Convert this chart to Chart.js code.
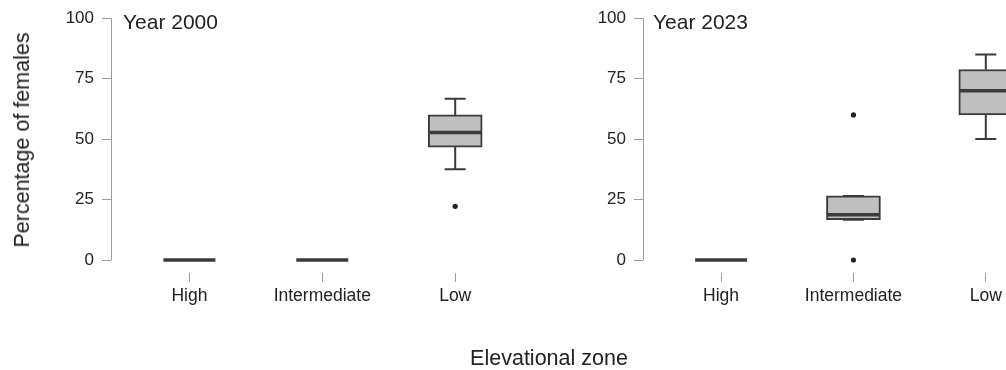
<!DOCTYPE html>
<html>
<head>
<meta charset="utf-8">
<script src="https://cdn.jsdelivr.net/npm/chart.js@4.4.1/dist/chart.umd.min.js"></script>
<style>
  body { margin: 0; background: #fff; }
  #wrap { position: relative; width: 1006px; height: 370px; overflow: hidden; font-family: "Liberation Sans", Arial, sans-serif; color: #222; }
  canvas { position: absolute; top: 0; }
  .panel-title { position: absolute; font-size: 21px; line-height: 21px; white-space: nowrap; }
  #xTitle { position: absolute; left: 449px; width: 200px; top: 348px; text-align: center; font-size: 21.5px; line-height: 21px; white-space: nowrap; }
  #yTitle { position: absolute; left: 22px; top: 140px; width: 0; height: 0; }
  #yTitle span { position: absolute; left: 0; top: 0; transform: translate(-50%, -50%) rotate(-90deg); font-size: 21.5px; line-height: 22px; white-space: nowrap; }
</style>
</head>
<body>
<div id="wrap">
  <canvas id="chart2000" width="500" height="370" style="left:0"></canvas>
  <canvas id="chart2023" width="506" height="370" style="left:500px"></canvas>
  <div class="panel-title" style="left:123px; top:11px">Year 2000</div>
  <div class="panel-title" style="left:653px; top:11px">Year 2023</div>
  <div id="yTitle"><span>Percentage of females</span></div>
  <div id="xTitle">Elevational zone</div>
</div>
<script>
// categories and tick labels
const zones = ['High', 'Intermediate', 'Low'];
const yTicks = [0, 25, 50, 75, 100];

// Year 2000 box stats (per zone)
const lower2000 = [0, 0, 37.5];
const q1_2000 = [0, 0, 46.7];
const median2000 = [0, 0, 52.7];
const q3_2000 = [0, 0, 60];
const upper2000 = [0, 0, 66.7];
const outliers2000 = [[], [], [22.2]];

// Year 2023 box stats (per zone)
const lower2023 = [0, 16.7, 50];
const q1_2023 = [0, 16.7, 60];
const median2023 = [0, 18.7, 70];
const q3_2023 = [0, 26.5, 78.8];
const upper2023 = [0, 26.5, 85];
const outliers2023 = [[], [0, 60], []];

Chart.defaults.font.family = '"Liberation Sans", Arial, sans-serif';
Chart.defaults.color = '#222';

// whiskers, caps, medians and the y axis line, all through the chart scales
const boxParts = {
    id: 'boxParts',
    afterDatasetsDraw(chart) {
        const s = chart.options.plugins.boxParts;
        const { ctx, chartArea } = chart;
        const x = chart.scales.x, y = chart.scales.y;
        ctx.save();
        // axis line only spans 0..100 like base R
        ctx.strokeStyle = '#9c9c9c';
        ctx.lineWidth = 1;
        ctx.beginPath();
        ctx.moveTo(chartArea.left + 0.5, y.getPixelForValue(yTicks[0]));
        ctx.lineTo(chartArea.left + 0.5, y.getPixelForValue(yTicks[yTicks.length - 1]));
        ctx.stroke();

        ctx.strokeStyle = '#3a3a3a';
        s.median.forEach((m, i) => {
            const cx = x.getPixelForValue(i + 1);
            ctx.lineWidth = 2;
            ctx.beginPath();
            ctx.moveTo(cx, y.getPixelForValue(s.q3[i]));
            ctx.lineTo(cx, y.getPixelForValue(s.upper[i]));
            ctx.moveTo(cx, y.getPixelForValue(s.q1[i]));
            ctx.lineTo(cx, y.getPixelForValue(s.lower[i]));
            ctx.moveTo(cx - 10.5, y.getPixelForValue(s.upper[i]));
            ctx.lineTo(cx + 10.5, y.getPixelForValue(s.upper[i]));
            ctx.moveTo(cx - 10.5, y.getPixelForValue(s.lower[i]));
            ctx.lineTo(cx + 10.5, y.getPixelForValue(s.lower[i]));
            ctx.stroke();
            ctx.lineWidth = 3.5;
            ctx.beginPath();
            ctx.moveTo(cx - 26, y.getPixelForValue(m));
            ctx.lineTo(cx + 26, y.getPixelForValue(m));
            ctx.stroke();
        });
        ctx.restore();
    }
};

function makePanel(id, stats, yWidth, xMin, xMax) {
    const boxes = zones.map((z, i) => ({ x: i + 1, y: [stats.q1[i], stats.q3[i]] }));
    const points = [];
    stats.outliers.forEach((list, i) => list.forEach(v => points.push({ x: i + 1, y: v })));

    new Chart(document.getElementById(id), {
        type: 'bar',
        data: {
            datasets: [
                {
                    data: boxes,
                    backgroundColor: '#bfbfbf',
                    borderColor: '#3a3a3a',
                    borderWidth: 2,
                    borderSkipped: false,
                    barThickness: 54,
                    clip: false,
                },
                {
                    type: 'scatter',
                    data: points,
                    pointRadius: 2.6,
                    pointBackgroundColor: '#222',
                    pointBorderWidth: 0,
                }
            ]
        },
        options: {
            responsive: false,
            animation: false,
            layout: { padding: { top: 18, left: 0, right: 0, bottom: 0 } },
            scales: {
                x: {
                    type: 'linear',
                    offset: false,
                    min: xMin,
                    max: xMax,
                    afterBuildTicks: (sc) => { sc.ticks = zones.map((z, i) => ({ value: i + 1 })); },
                    afterFit: (sc) => { sc.height = 97; },
                    border: { display: false },
                    grid: { offset: false, drawOnChartArea: false, drawTicks: true, tickLength: 9, color: '#9c9c9c' },
                    ticks: {
                        callback: (v) => zones[v - 1],
                        autoSkip: false,
                        maxRotation: 0,
                        padding: 4,
                        font: { size: 17.5 },
                        color: '#222',
                    },
                },
                y: {
                    min: -5.37,
                    max: 100,
                    afterBuildTicks: (sc) => { sc.ticks = yTicks.map(v => ({ value: v })); },
                    afterFit: (sc) => { sc.width = yWidth; },
                    border: { display: false },
                    grid: { drawOnChartArea: false, drawTicks: true, tickLength: 9, color: '#9c9c9c' },
                    ticks: { padding: 8, font: { size: 17 }, color: '#222' },
                },
            },
            plugins: {
                legend: { display: false },
                tooltip: { enabled: false },
                boxParts: stats,
            },
        },
        plugins: [boxParts],
    });
}

makePanel('chart2000', {
    lower: lower2000, q1: q1_2000, median: median2000, q3: q3_2000, upper: upper2000, outliers: outliers2000
}, 111, 0.41, 3.307);

makePanel('chart2023', {
    lower: lower2023, q1: q1_2023, median: median2023, q3: q3_2023, upper: upper2023, outliers: outliers2023
}, 143, 0.41, 3.10);
</script>
</body>
</html>
